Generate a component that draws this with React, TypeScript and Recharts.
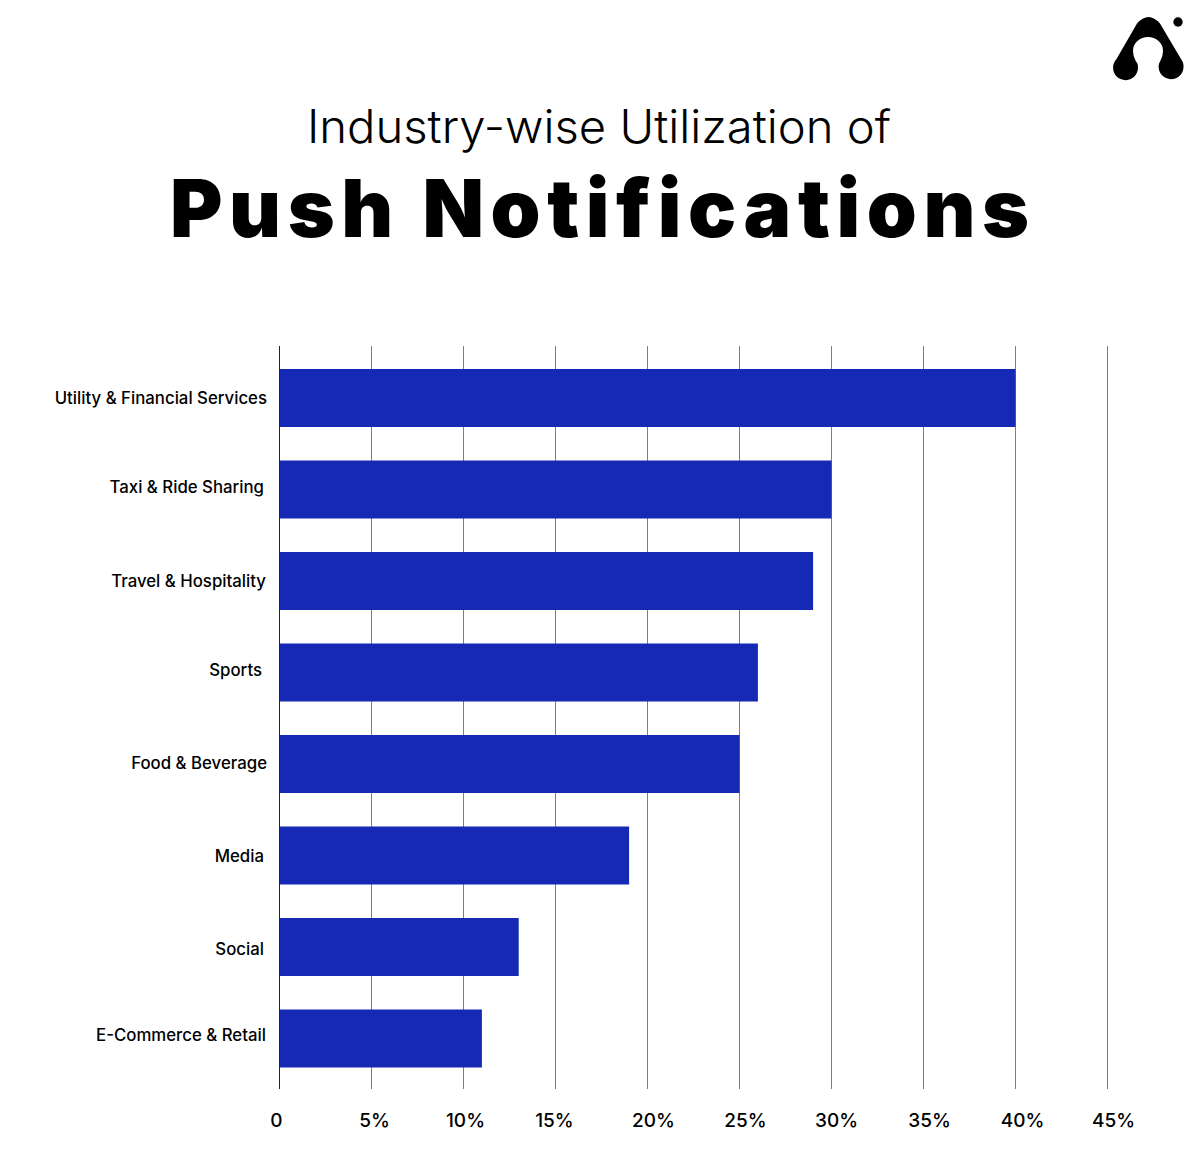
import { BarChart, Bar, XAxis, YAxis, CartesianGrid } from 'recharts';

const categories = [
    'Utility & Financial Services',
    'Taxi & Ride Sharing',
    'Travel & Hospitality',
    'Sports',
    'Food & Beverage',
    'Media',
    'Social',
    'E-Commerce & Retail',
];
const usage = [40, 30, 29, 26, 25, 19, 13, 11];
const xTicks = [0, 5, 10, 15, 20, 25, 30, 35, 40, 45];

const data = categories.map((name, i) => ({ name, usage: usage[i] }));

const LABEL_FONT = 'Inter, "Open Sans", sans-serif';

// the labels in the original are not quite aligned, nudge them per row
const labelNudge = [
    [0, 0.5],
    [-3, -1.5],
    [-1, 0.5],
    [-5, -1.5],
    [0, -0.5],
    [-3, 1.5],
    [-3, 2.5],
    [-1, -2.5],
];
const tickNudge = [-3, 3, 2, -1, 6, 6, 5, 6, 7, 6];

const CategoryTick = ({ x, y, payload, index }: any) => {
    const [dx, dy] = labelNudge[index] || [0, 0];
    return (
        <text
            x={x - 4.5 + dx}
            y={y + 5.5 + dy}
            textAnchor="end"
            fontFamily={LABEL_FONT}
            fontSize={16.8}
            fontWeight={500}
            fill="#000"
        >
            {payload.value}
        </text>
    );
};

const ValueTick = ({ x, y, payload, index }: any) => (
    <text
        x={x + (tickNudge[index] || 0)}
        y={y + 30}
        textAnchor="middle"
        fontFamily={LABEL_FONT}
        fontSize={19}
        fontWeight={500}
        fill="#000"
    >
        {payload.value === 0 ? '0' : `${payload.value}%`}
    </text>
);

export default function App() {
    return (
        <div style={{ position: 'absolute', left: 0, top: 0, width: 1200, height: 1176, background: '#fff' }}>
            <BarChart
                width={1200}
                height={1176}
                data={data}
                layout="vertical"
                margin={{ top: 346, right: 92.5, bottom: 27, left: 0 }}
                barCategoryGap={0}
            >
                <CartesianGrid horizontal={false} stroke="#7f7f7f" strokeWidth={1} />
                <XAxis
                    type="number"
                    domain={[0, 45]}
                    ticks={xTicks}
                    height={60}
                    axisLine={false}
                    tickLine={false}
                    tick={<ValueTick />}
                    interval={0}
                />
                <YAxis
                    type="category"
                    dataKey="name"
                    width={279.5}
                    interval={0}
                    axisLine={{ stroke: '#222', strokeWidth: 1 }}
                    tickLine={false}
                    padding={{ top: 6, bottom: 5 }}
                    tick={<CategoryTick />}
                />
                <Bar dataKey="usage" fill="#1529B5" barSize={58} isAnimationActive={false} />
            </BarChart>

            <svg
                width={1200}
                height={300}
                style={{ position: 'absolute', left: 0, top: 0, pointerEvents: 'none' }}
            >
                <text
                    x={307}
                    y={143}
                    textLength={584}
                    lengthAdjust="spacingAndGlyphs"
                    fontFamily={LABEL_FONT}
                    fontSize={46}
                    fontWeight={300}
                    fill="#000"
                >
                    Industry-wise Utilization of
                </text>
                <text
                    x={170}
                    y={237}
                    textLength={859}
                    lengthAdjust="spacing"
                    fontFamily={LABEL_FONT}
                    fontSize={80}
                    fontWeight={900}
                    fill="#000"
                >
                    Push Notifications
                </text>
                <path
                    d="M1116.5 59 L1137 23.5 Q1148.5 10.5 1160 23.5 L1181 59 A12.5 12.5 0 1 1 1158.6 67 Q1158.6 63.5 1160.5 60.5 Q1163 56 1163 51 A15 14 0 0 0 1133 51 Q1133 56 1135.5 60.5 Q1138 63.5 1138 67 A12.5 12.5 0 1 1 1116.5 59 Z"
                    fill="#000"
                />
                <circle cx={1178} cy={22} r={4.7} fill="#000" />
            </svg>
        </div>
    );
}
